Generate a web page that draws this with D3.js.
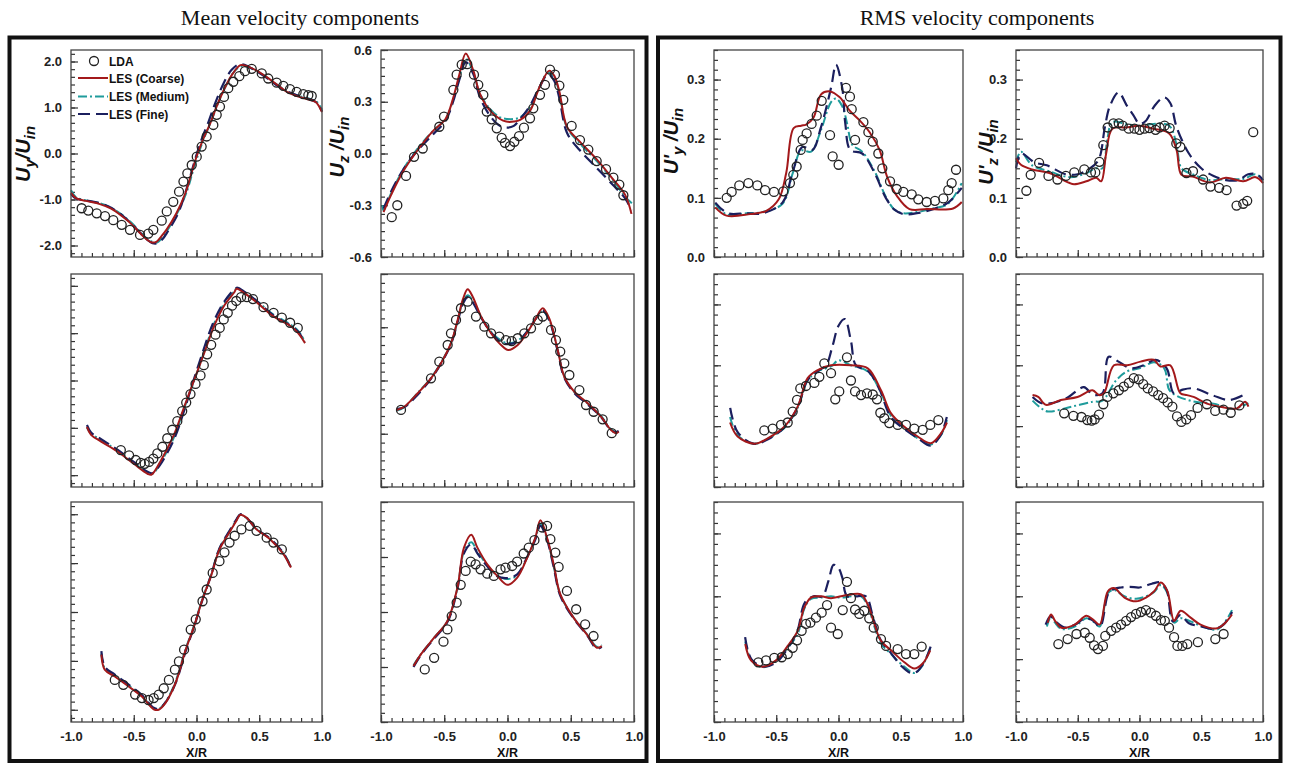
<!DOCTYPE html>
<html>
<head>
<meta charset="utf-8">
<title>Mean and RMS velocity components</title>
<script src="https://d3js.org/d3.v7.min.js"></script>
<style>
  body { margin: 0; background: #fff; }
  svg { display: block; font-family: "Liberation Sans", Arial, sans-serif; }
  .tick text { font-size: 13px; font-weight: bold; fill: #222; }
  .tick line { stroke: #333; stroke-width: 1.2; }
  .frame { fill: none; stroke: #111; stroke-width: 4; }
  .box { fill: none; stroke: #444; stroke-width: 1.3; }
  .title { font-family: "Liberation Serif", "Times New Roman", serif; font-size: 22px; fill: #111; }
  .lda { fill: none; stroke: #222; stroke-width: 1.3; }
  .ytitle { font-size: 20px; font-weight: bold; font-style: italic; fill: #111; }
  .xtitle { font-size: 12.5px; font-weight: bold; fill: #111; }
  .legend text { font-size: 12px; font-weight: bold; fill: #111; }
</style>
</head>
<body>
<svg width="1290" height="765"></svg>
<script>
// ---- tick labels ----
var xTicks = [-1, -0.5, 0, 0.5, 1];
var uyTicks = [-2, -1, 0, 1, 2];
var uzTicks = [-0.6, -0.3, 0, 0.3, 0.6];
var rmsTicks = [0, 0.1, 0.2, 0.3];
var seriesNames = ["LDA", "LES (Coarse)", "LES (Medium)", "LES (Fine)"];

// ---- row 1 : Uy/Uin ----
var uyCoarse1 = [[-1,-0.85],[-0.96,-0.97],[-0.88,-1.03],[-0.77,-1.1],[-0.68,-1.2],[-0.59,-1.37],[-0.52,-1.53],[-0.45,-1.73],[-0.4,-1.86],[-0.36,-1.93],[-0.32,-1.92],[-0.28,-1.8],[-0.24,-1.66],[-0.16,-1.3],[-0.09,-0.87],[-0.04,-0.43],[0,-0.07],[0.05,0.29],[0.11,0.66],[0.16,1.02],[0.23,1.45],[0.29,1.74],[0.35,1.92],[0.4,1.9],[0.48,1.8],[0.56,1.66],[0.64,1.5],[0.72,1.34],[0.82,1.23],[0.9,1.17],[0.95,1.12],[1,0.9]];
var uyMedium1 = [[-1,-0.8],[-0.96,-0.95],[-0.88,-1.02],[-0.77,-1.08],[-0.68,-1.18],[-0.59,-1.34],[-0.52,-1.5],[-0.45,-1.7],[-0.4,-1.84],[-0.35,-1.92],[-0.31,-1.93],[-0.27,-1.82],[-0.23,-1.66],[-0.15,-1.28],[-0.08,-0.85],[-0.03,-0.4],[0.01,-0.05],[0.06,0.33],[0.12,0.72],[0.17,1.08],[0.24,1.5],[0.3,1.78],[0.36,1.9],[0.41,1.88],[0.49,1.78],[0.57,1.64],[0.65,1.48],[0.73,1.34],[0.83,1.24],[0.91,1.18],[0.96,1.12],[1,0.95]];
var uyFine1 = [[-1,-0.88],[-0.96,-0.98],[-0.88,-1.02],[-0.77,-1.08],[-0.68,-1.18],[-0.59,-1.35],[-0.52,-1.52],[-0.45,-1.72],[-0.4,-1.86],[-0.35,-1.95],[-0.31,-1.95],[-0.27,-1.86],[-0.23,-1.7],[-0.15,-1.32],[-0.1,-0.95],[-0.05,-0.5],[-0.01,-0.12],[0.04,0.3],[0.1,0.72],[0.15,1.1],[0.22,1.55],[0.28,1.82],[0.34,1.94],[0.39,1.92],[0.47,1.8],[0.55,1.66],[0.63,1.5],[0.72,1.35],[0.82,1.25],[0.9,1.18],[0.95,1.12],[1,0.92]];
var uyLda1 = [[-0.915,-1.19],[-0.862,-1.24],[-0.795,-1.3],[-0.729,-1.36],[-0.663,-1.45],[-0.596,-1.55],[-0.53,-1.66],[-0.45,-1.77],[-0.384,-1.74],[-0.344,-1.66],[-0.277,-1.46],[-0.237,-1.26],[-0.185,-1.05],[-0.139,-0.83],[-0.104,-0.61],[-0.073,-0.43],[-0.038,-0.25],[0.002,-0.07],[0.041,0.15],[0.081,0.37],[0.134,0.62],[0.161,0.84],[0.187,1.02],[0.219,1.23],[0.253,1.42],[0.293,1.56],[0.341,1.68],[0.386,1.79],[0.44,1.84],[0.52,1.74],[0.572,1.63],[0.639,1.54],[0.692,1.47],[0.745,1.4],[0.798,1.34],[0.851,1.29],[0.891,1.27],[0.918,1.25]];

// ---- row 1 : Uz/Uin ----
var uzCoarse1 = [[-0.98,-0.34],[-0.92,-0.24],[-0.83,-0.11],[-0.72,0.01],[-0.59,0.13],[-0.49,0.2],[-0.43,0.32],[-0.38,0.46],[-0.33,0.58],[-0.27,0.48],[-0.22,0.35],[-0.14,0.25],[-0.06,0.2],[-0.01,0.185],[0.05,0.185],[0.1,0.195],[0.18,0.25],[0.25,0.38],[0.33,0.48],[0.37,0.45],[0.41,0.36],[0.47,0.155],[0.57,0.07],[0.7,-0.03],[0.83,-0.145],[0.93,-0.24],[0.98,-0.35]];
var uzMedium1 = [[-0.99,-0.3],[-0.98,-0.33],[-0.92,-0.23],[-0.83,-0.1],[-0.72,0.02],[-0.59,0.13],[-0.49,0.2],[-0.43,0.31],[-0.38,0.44],[-0.33,0.55],[-0.27,0.47],[-0.22,0.35],[-0.14,0.26],[-0.06,0.21],[0,0.2],[0.05,0.2],[0.1,0.21],[0.18,0.27],[0.25,0.38],[0.32,0.47],[0.37,0.44],[0.41,0.35],[0.47,0.15],[0.57,0.06],[0.7,-0.04],[0.83,-0.15],[0.93,-0.25],[1,-0.3]];
var uzFine1 = [[-0.98,-0.32],[-0.92,-0.22],[-0.83,-0.1],[-0.72,0.01],[-0.59,0.11],[-0.49,0.19],[-0.43,0.3],[-0.38,0.43],[-0.33,0.53],[-0.27,0.46],[-0.22,0.33],[-0.14,0.22],[-0.06,0.16],[0,0.15],[0.05,0.16],[0.1,0.2],[0.18,0.28],[0.25,0.38],[0.32,0.46],[0.37,0.42],[0.41,0.32],[0.47,0.12],[0.57,0.02],[0.7,-0.08],[0.83,-0.18],[0.93,-0.26],[0.98,-0.33]];
var uzLda1 = [[-0.915,-0.369],[-0.871,-0.3],[-0.802,-0.13],[-0.739,-0.019],[-0.67,0.029],[-0.539,0.155],[-0.502,0.214],[-0.428,0.369],[-0.402,0.457],[-0.362,0.515],[-0.318,0.518],[-0.265,0.457],[-0.231,0.398],[-0.191,0.34],[-0.164,0.243],[-0.125,0.198],[-0.085,0.146],[-0.046,0.091],[-0.02,0.062],[0.02,0.043],[0.054,0.068],[0.091,0.101],[0.13,0.15],[0.178,0.204],[0.204,0.262],[0.257,0.34],[0.296,0.398],[0.336,0.486],[0.375,0.457],[0.41,0.394],[0.441,0.311],[0.507,0.16],[0.573,0.078],[0.639,0.023],[0.705,-0.044],[0.779,-0.091],[0.837,-0.14],[0.884,-0.18],[0.916,-0.242]];

// ---- row 1 : U'y/Uin ----
var ryCoarse1 = [[-0.99,0.084],[-0.9,0.07],[-0.71,0.0725],[-0.58,0.078],[-0.48,0.0975],[-0.42,0.142],[-0.36,0.218],[-0.3,0.222],[-0.26,0.224],[-0.2,0.236],[-0.14,0.275],[-0.07,0.28],[0.01,0.27],[0.09,0.2475],[0.17,0.231],[0.25,0.211],[0.33,0.181],[0.39,0.136],[0.47,0.103],[0.57,0.081],[0.71,0.081],[0.92,0.082],[0.99,0.093]];
var ryMedium1 = [[-0.99,0.09],[-0.9,0.072],[-0.74,0.074],[-0.61,0.076],[-0.45,0.09],[-0.37,0.14],[-0.3,0.18],[-0.22,0.178],[-0.14,0.215],[-0.06,0.262],[-0.02,0.268],[0.03,0.255],[0.07,0.225],[0.11,0.19],[0.19,0.178],[0.29,0.145],[0.38,0.102],[0.45,0.08],[0.52,0.074],[0.63,0.076],[0.76,0.082],[0.88,0.09],[0.99,0.125]];
var ryFine1 = [[-0.99,0.092],[-0.89,0.074],[-0.74,0.074],[-0.61,0.074],[-0.45,0.092],[-0.37,0.142],[-0.29,0.186],[-0.21,0.181],[-0.14,0.22],[-0.06,0.286],[-0.02,0.325],[0.03,0.286],[0.055,0.225],[0.095,0.181],[0.19,0.175],[0.29,0.142],[0.38,0.1],[0.45,0.08],[0.52,0.0725],[0.63,0.074],[0.76,0.081],[0.88,0.092],[0.99,0.117]];
var ryLda1 = [[-0.898,0.1],[-0.858,0.11],[-0.797,0.121],[-0.724,0.125],[-0.652,0.121],[-0.59,0.113],[-0.518,0.11],[-0.443,0.111],[-0.39,0.125],[-0.363,0.139],[-0.336,0.153],[-0.304,0.181],[-0.288,0.198],[-0.256,0.209],[-0.216,0.225],[-0.175,0.239],[-0.135,0.264],[-0.068,0.206],[-0.047,0.17],[0.001,0.156],[0.06,0.286],[0.092,0.271],[0.106,0.25],[0.133,0.198],[0.2,0.228],[0.24,0.211],[0.275,0.195],[0.32,0.175],[0.352,0.15],[0.414,0.128],[0.467,0.115],[0.521,0.11],[0.588,0.106],[0.641,0.0975],[0.708,0.093],[0.775,0.095],[0.842,0.099],[0.882,0.113],[0.909,0.125],[0.944,0.1475]];

// ---- row 1 : U'z/Uin ----
var rzCoarse1 = [[-1,0.167],[-0.96,0.156],[-0.87,0.148],[-0.73,0.142],[-0.57,0.1255],[-0.53,0.123],[-0.43,0.128],[-0.35,0.134],[-0.31,0.128],[-0.27,0.175],[-0.22,0.217],[-0.11,0.219],[0,0.222],[0.11,0.217],[0.24,0.209],[0.3,0.181],[0.34,0.139],[0.43,0.136],[0.57,0.126],[0.7,0.134],[0.84,0.128],[0.94,0.135],[1,0.125]];
var rzMedium1 = [[-1,0.16],[-0.96,0.178],[-0.87,0.155],[-0.73,0.145],[-0.57,0.135],[-0.45,0.14],[-0.35,0.15],[-0.3,0.15],[-0.26,0.2],[-0.22,0.228],[-0.11,0.225],[0,0.222],[0.11,0.225],[0.24,0.222],[0.3,0.19],[0.34,0.15],[0.43,0.14],[0.57,0.13],[0.7,0.132],[0.84,0.132],[0.94,0.14],[1,0.13]];
var rzFine1 = [[-1,0.15],[-0.96,0.175],[-0.85,0.16],[-0.75,0.155],[-0.6,0.14],[-0.5,0.14],[-0.4,0.15],[-0.33,0.165],[-0.28,0.22],[-0.24,0.255],[-0.17,0.278],[-0.1,0.255],[-0.05,0.24],[0,0.225],[0.05,0.23],[0.12,0.255],[0.2,0.27],[0.25,0.26],[0.3,0.22],[0.4,0.175],[0.5,0.15],[0.6,0.137],[0.7,0.13],[0.8,0.13],[0.88,0.14],[0.95,0.14],[1,0.13]];
var rzLda1 = [[-0.916,0.112],[-0.881,0.139],[-0.813,0.159],[-0.737,0.137],[-0.664,0.131],[-0.596,0.137],[-0.528,0.143],[-0.447,0.148],[-0.393,0.143],[-0.358,0.143],[-0.325,0.161],[-0.293,0.189],[-0.258,0.219],[-0.211,0.226],[-0.168,0.226],[-0.136,0.222],[-0.087,0.217],[-0.041,0.217],[0,0.215],[0.041,0.217],[0.081,0.218],[0.13,0.215],[0.163,0.219],[0.203,0.222],[0.244,0.218],[0.298,0.192],[0.331,0.186],[0.38,0.142],[0.433,0.145],[0.515,0.131],[0.575,0.119],[0.645,0.117],[0.705,0.113],[0.786,0.087],[0.84,0.09],[0.872,0.095],[0.921,0.211]];

// ---- row 2 ----
var uyCoarse2 = [[-0.873,-0.98],[-0.84,-1.15],[-0.76,-1.29],[-0.63,-1.5],[-0.5,-1.76],[-0.39,-1.97],[-0.36,-1.99],[-0.29,-1.72],[-0.18,-1.15],[-0.1,-0.57],[-0.02,0],[0.06,0.57],[0.14,1.15],[0.22,1.58],[0.3,1.86],[0.32,1.94],[0.39,1.83],[0.48,1.65],[0.61,1.36],[0.75,1.15],[0.81,1],[0.865,0.79]];
var uyMedium2 = [[-0.873,-1],[-0.84,-1.12],[-0.76,-1.26],[-0.63,-1.48],[-0.5,-1.74],[-0.39,-1.94],[-0.35,-1.97],[-0.29,-1.75],[-0.18,-1.2],[-0.1,-0.6],[-0.02,-0.02],[0.06,0.6],[0.14,1.2],[0.22,1.62],[0.3,1.88],[0.32,1.95],[0.39,1.85],[0.48,1.68],[0.61,1.4],[0.75,1.18],[0.81,1.05],[0.865,0.82]];
var uyFine2 = [[-0.873,-0.94],[-0.84,-1.1],[-0.76,-1.24],[-0.63,-1.46],[-0.5,-1.72],[-0.39,-1.93],[-0.35,-1.96],[-0.29,-1.78],[-0.18,-1.25],[-0.1,-0.65],[-0.03,-0.05],[0.05,0.6],[0.13,1.2],[0.21,1.62],[0.29,1.9],[0.32,1.96],[0.39,1.86],[0.48,1.68],[0.61,1.38],[0.75,1.16],[0.81,1.03],[0.865,0.8]];
var uyLda2 = [[-0.603,-1.47],[-0.537,-1.58],[-0.484,-1.68],[-0.444,-1.74],[-0.413,-1.76],[-0.378,-1.72],[-0.344,-1.65],[-0.312,-1.54],[-0.272,-1.4],[-0.233,-1.22],[-0.193,-1.04],[-0.153,-0.86],[-0.114,-0.645],[-0.082,-0.466],[-0.048,-0.287],[-0.008,-0.072],[0.032,0.108],[0.058,0.323],[0.085,0.552],[0.117,0.753],[0.151,0.968],[0.185,1.11],[0.217,1.29],[0.249,1.43],[0.283,1.58],[0.317,1.68],[0.355,1.76],[0.402,1.76],[0.45,1.72],[0.534,1.55],[0.614,1.43],[0.68,1.33],[0.746,1.22],[0.807,1.11]];

var uzCoarse2 = [[-0.874,-0.166],[-0.816,-0.148],[-0.71,-0.072],[-0.605,0.012],[-0.526,0.097],[-0.447,0.21],[-0.394,0.341],[-0.354,0.454],[-0.315,0.514],[-0.275,0.472],[-0.209,0.36],[-0.13,0.266],[-0.051,0.2],[0.006,0.172],[0.081,0.2],[0.16,0.275],[0.225,0.35],[0.278,0.407],[0.33,0.35],[0.397,0.172],[0.449,0.021],[0.528,-0.063],[0.634,-0.128],[0.739,-0.204],[0.818,-0.279],[0.858,-0.297],[0.879,-0.288]];
var uzMedium2 = [[-0.874,-0.17],[-0.816,-0.15],[-0.71,-0.07],[-0.605,0.015],[-0.526,0.1],[-0.447,0.21],[-0.394,0.335],[-0.354,0.44],[-0.315,0.48],[-0.275,0.45],[-0.209,0.36],[-0.13,0.275],[-0.051,0.225],[0.006,0.21],[0.081,0.225],[0.16,0.28],[0.225,0.35],[0.278,0.39],[0.33,0.34],[0.397,0.17],[0.449,0.02],[0.528,-0.065],[0.634,-0.13],[0.739,-0.2],[0.818,-0.275],[0.858,-0.29],[0.879,-0.28]];
var uzFine2 = [[-0.874,-0.16],[-0.816,-0.15],[-0.71,-0.08],[-0.605,0.01],[-0.526,0.095],[-0.447,0.205],[-0.394,0.33],[-0.354,0.43],[-0.315,0.47],[-0.275,0.44],[-0.209,0.355],[-0.13,0.27],[-0.051,0.215],[0.006,0.205],[0.081,0.22],[0.16,0.28],[0.225,0.35],[0.278,0.395],[0.33,0.34],[0.397,0.165],[0.449,0.015],[0.528,-0.07],[0.634,-0.135],[0.739,-0.205],[0.818,-0.28],[0.858,-0.29],[0.879,-0.285]];
var uzLda2 = [[-0.842,-0.166],[-0.605,0.012],[-0.539,0.106],[-0.473,0.2],[-0.447,0.266],[-0.407,0.341],[-0.368,0.407],[-0.315,0.444],[-0.249,0.36],[-0.183,0.303],[-0.13,0.266],[-0.065,0.247],[-0.012,0.228],[0.033,0.222],[0.081,0.238],[0.133,0.266],[0.186,0.294],[0.239,0.341],[0.278,0.36],[0.344,0.285],[0.383,0.228],[0.417,0.163],[0.449,0.097],[0.489,0.031],[0.568,-0.054],[0.621,-0.138],[0.681,-0.176],[0.752,-0.219],[0.824,-0.297]];

var ryCoarse2 = [[-0.871,0.106],[-0.81,0.083],[-0.676,0.071],[-0.569,0.08],[-0.435,0.099],[-0.328,0.132],[-0.248,0.179],[-0.167,0.192],[-0.06,0.2],[0.1,0.2],[0.235,0.195],[0.341,0.159],[0.422,0.121],[0.529,0.099],[0.636,0.083],[0.743,0.072],[0.823,0.088],[0.871,0.106]];
var ryMedium2 = [[-0.871,0.115],[-0.81,0.085],[-0.676,0.071],[-0.569,0.079],[-0.435,0.097],[-0.328,0.13],[-0.248,0.175],[-0.167,0.19],[-0.06,0.198],[0,0.208],[0.1,0.2],[0.235,0.19],[0.341,0.155],[0.422,0.117],[0.529,0.097],[0.636,0.08],[0.743,0.07],[0.823,0.085],[0.871,0.11]];
var ryFine2 = [[-0.87,0.13],[-0.81,0.09],[-0.68,0.071],[-0.57,0.078],[-0.44,0.097],[-0.33,0.13],[-0.25,0.175],[-0.17,0.19],[-0.1,0.2],[-0.05,0.23],[0,0.265],[0.05,0.276],[0.1,0.24],[0.14,0.2],[0.24,0.19],[0.33,0.16],[0.42,0.115],[0.53,0.095],[0.64,0.08],[0.74,0.068],[0.82,0.085],[0.87,0.115]];
var ryLda2 = [[-0.596,0.093],[-0.529,0.096],[-0.462,0.102],[-0.408,0.106],[-0.368,0.124],[-0.333,0.143],[-0.307,0.162],[-0.261,0.166],[-0.194,0.171],[-0.154,0.181],[-0.114,0.203],[-0.06,0.187],[-0.026,0.144],[0.006,0.157],[0.068,0.213],[0.1,0.175],[0.133,0.157],[0.181,0.151],[0.229,0.154],[0.275,0.152],[0.309,0.144],[0.336,0.122],[0.368,0.113],[0.408,0.105],[0.476,0.102],[0.542,0.102],[0.609,0.096],[0.676,0.094],[0.737,0.102],[0.802,0.11]];

var rzCoarse2 = [[-0.866,0.151],[-0.82,0.148],[-0.758,0.135],[-0.637,0.143],[-0.502,0.148],[-0.381,0.159],[-0.328,0.151],[-0.288,0.154],[-0.207,0.2],[-0.099,0.2],[0.008,0.206],[0.115,0.209],[0.169,0.198],[0.25,0.2],[0.331,0.154],[0.385,0.151],[0.438,0.148],[0.546,0.137],[0.653,0.132],[0.788,0.129],[0.855,0.14],[0.882,0.132]];
var rzMedium2 = [[-0.866,0.142],[-0.8,0.13],[-0.74,0.124],[-0.55,0.132],[-0.38,0.14],[-0.3,0.142],[-0.19,0.175],[-0.1,0.19],[0,0.195],[0.12,0.205],[0.2,0.195],[0.24,0.16],[0.3,0.15],[0.45,0.14],[0.6,0.137],[0.75,0.128],[0.82,0.132],[0.882,0.138]];
var rzFine2 = [[-0.866,0.148],[-0.78,0.137],[-0.6,0.145],[-0.45,0.164],[-0.38,0.152],[-0.3,0.154],[-0.25,0.214],[-0.17,0.206],[-0.07,0.195],[0.035,0.2],[0.13,0.209],[0.22,0.195],[0.277,0.154],[0.35,0.16],[0.44,0.162],[0.6,0.15],[0.73,0.143],[0.87,0.154]];
var rzLda2 = [[-0.61,0.121],[-0.535,0.117],[-0.47,0.115],[-0.422,0.11],[-0.387,0.109],[-0.363,0.111],[-0.328,0.119],[-0.293,0.136],[-0.261,0.148],[-0.212,0.154],[-0.167,0.159],[-0.127,0.165],[-0.086,0.171],[-0.046,0.179],[-0.006,0.177],[0.03,0.169],[0.067,0.162],[0.11,0.157],[0.151,0.151],[0.191,0.146],[0.228,0.139],[0.266,0.132],[0.304,0.116],[0.339,0.107],[0.379,0.111],[0.417,0.118],[0.47,0.13],[0.546,0.136],[0.613,0.125],[0.68,0.127],[0.739,0.122],[0.809,0.134]];

// ---- row 3 ----
var uyCoarse3 = [[-0.758,-0.873],[-0.731,-1.18],[-0.651,-1.32],[-0.543,-1.52],[-0.435,-1.73],[-0.341,-1.99],[-0.301,-2],[-0.247,-1.86],[-0.167,-1.45],[-0.086,-0.77],[-0.019,-0.29],[0.048,0.26],[0.116,0.74],[0.183,1.28],[0.263,1.63],[0.317,1.86],[0.349,1.99],[0.398,1.93],[0.478,1.69],[0.586,1.49],[0.694,1.18],[0.753,0.91]];
var uyMedium3 = [[-0.758,-0.85],[-0.731,-1.15],[-0.651,-1.3],[-0.543,-1.5],[-0.435,-1.72],[-0.341,-1.97],[-0.301,-1.98],[-0.247,-1.84],[-0.167,-1.42],[-0.086,-0.75],[-0.019,-0.27],[0.048,0.28],[0.116,0.76],[0.183,1.3],[0.263,1.65],[0.317,1.88],[0.349,1.99],[0.398,1.92],[0.478,1.7],[0.586,1.5],[0.694,1.2],[0.753,0.93]];
var uyFine3 = [[-0.758,-0.8],[-0.731,-1.12],[-0.651,-1.28],[-0.543,-1.48],[-0.435,-1.7],[-0.341,-1.96],[-0.301,-1.98],[-0.247,-1.85],[-0.167,-1.46],[-0.086,-0.8],[-0.019,-0.3],[0.048,0.25],[0.116,0.75],[0.183,1.3],[0.263,1.66],[0.317,1.89],[0.349,2],[0.398,1.93],[0.478,1.7],[0.586,1.5],[0.694,1.2],[0.753,0.9]];
var uyLda3 = [[-0.651,-1.39],[-0.583,-1.49],[-0.489,-1.69],[-0.435,-1.76],[-0.382,-1.8],[-0.341,-1.76],[-0.301,-1.69],[-0.261,-1.56],[-0.22,-1.39],[-0.172,-1.18],[-0.14,-1.01],[-0.099,-0.77],[-0.046,-0.36],[-0.006,-0.15],[0.048,0.22],[0.081,0.46],[0.129,0.8],[0.183,1.04],[0.223,1.22],[0.263,1.42],[0.304,1.56],[0.358,1.69],[0.425,1.76],[0.478,1.66],[0.559,1.52],[0.613,1.42],[0.68,1.28]];

var uzCoarse3 = [[-0.743,-0.295],[-0.685,-0.231],[-0.58,-0.14],[-0.475,-0.049],[-0.396,0.133],[-0.344,0.351],[-0.286,0.421],[-0.238,0.351],[-0.16,0.26],[-0.081,0.197],[-0.002,0.148],[0.077,0.188],[0.156,0.297],[0.22,0.406],[0.26,0.501],[0.312,0.406],[0.365,0.26],[0.417,0.097],[0.522,-0.031],[0.627,-0.122],[0.706,-0.195],[0.745,-0.186]];
var uzMedium3 = [[-0.743,-0.29],[-0.685,-0.23],[-0.58,-0.14],[-0.475,-0.05],[-0.396,0.13],[-0.344,0.33],[-0.286,0.38],[-0.238,0.33],[-0.16,0.255],[-0.081,0.2],[-0.002,0.18],[0.077,0.2],[0.156,0.3],[0.22,0.4],[0.26,0.48],[0.312,0.4],[0.365,0.25],[0.417,0.095],[0.522,-0.03],[0.627,-0.12],[0.706,-0.19],[0.745,-0.18]];
var uzFine3 = [[-0.743,-0.3],[-0.685,-0.235],[-0.58,-0.145],[-0.475,-0.055],[-0.396,0.125],[-0.344,0.32],[-0.286,0.37],[-0.238,0.32],[-0.16,0.25],[-0.081,0.195],[-0.002,0.185],[0.077,0.205],[0.156,0.3],[0.22,0.395],[0.26,0.47],[0.312,0.395],[0.365,0.245],[0.417,0.09],[0.522,-0.035],[0.627,-0.125],[0.706,-0.2],[0.745,-0.19]];
var uzLda3 = [[-0.654,-0.313],[-0.58,-0.25],[-0.506,-0.162],[-0.475,-0.095],[-0.441,-0.022],[-0.402,0.051],[-0.37,0.148],[-0.331,0.224],[-0.291,0.275],[-0.252,0.26],[-0.213,0.233],[-0.16,0.209],[-0.108,0.197],[-0.055,0.233],[-0.016,0.242],[0.037,0.251],[0.076,0.275],[0.128,0.319],[0.168,0.351],[0.213,0.392],[0.273,0.461],[0.313,0.47],[0.339,0.397],[0.378,0.324],[0.404,0.246],[0.47,0.115],[0.543,0.015],[0.614,-0.067],[0.68,-0.131]];

var ryCoarse3 = [[-0.749,0.124],[-0.703,0.098],[-0.609,0.088],[-0.502,0.098],[-0.408,0.121],[-0.328,0.145],[-0.275,0.182],[-0.221,0.198],[-0.141,0.2],[-0.06,0.197],[0.02,0.2],[0.1,0.203],[0.181,0.203],[0.235,0.187],[0.288,0.156],[0.341,0.129],[0.422,0.114],[0.529,0.095],[0.609,0.085],[0.676,0.093],[0.737,0.114]];
var ryMedium3 = [[-0.749,0.128],[-0.703,0.1],[-0.609,0.087],[-0.502,0.097],[-0.408,0.118],[-0.328,0.14],[-0.275,0.18],[-0.221,0.196],[-0.141,0.198],[-0.06,0.2],[0.02,0.198],[0.1,0.2],[0.181,0.2],[0.235,0.185],[0.288,0.152],[0.341,0.125],[0.422,0.108],[0.529,0.088],[0.609,0.078],[0.676,0.09],[0.737,0.118]];
var ryFine3 = [[-0.75,0.135],[-0.7,0.1],[-0.6,0.088],[-0.5,0.095],[-0.4,0.12],[-0.33,0.145],[-0.27,0.19],[-0.2,0.2],[-0.13,0.2],[-0.08,0.225],[-0.04,0.25],[0,0.245],[0.03,0.23],[0.07,0.2],[0.15,0.2],[0.22,0.2],[0.28,0.165],[0.34,0.13],[0.42,0.11],[0.5,0.09],[0.58,0.078],[0.63,0.08],[0.7,0.1],[0.74,0.12]];
var ryLda3 = [[-0.644,0.095],[-0.582,0.098],[-0.516,0.102],[-0.456,0.103],[-0.408,0.108],[-0.368,0.118],[-0.333,0.13],[-0.296,0.145],[-0.261,0.156],[-0.226,0.158],[-0.181,0.166],[-0.135,0.174],[-0.092,0.186],[-0.06,0.15],[-0.006,0.14],[0.034,0.178],[0.068,0.223],[0.1,0.197],[0.133,0.179],[0.167,0.172],[0.207,0.177],[0.247,0.165],[0.283,0.15],[0.341,0.132],[0.382,0.121],[0.475,0.116],[0.542,0.108],[0.609,0.108],[0.668,0.12]];

var rzCoarse3 = [[-0.743,0.158],[-0.716,0.171],[-0.684,0.161],[-0.631,0.15],[-0.524,0.155],[-0.43,0.169],[-0.376,0.163],[-0.323,0.155],[-0.256,0.208],[-0.207,0.213],[-0.122,0.198],[-0.028,0.192],[0.052,0.198],[0.119,0.208],[0.173,0.222],[0.226,0.208],[0.28,0.161],[0.333,0.177],[0.414,0.166],[0.494,0.155],[0.628,0.149],[0.695,0.158],[0.749,0.171]];
var rzMedium3 = [[-0.75,0.152],[-0.716,0.168],[-0.684,0.158],[-0.631,0.148],[-0.524,0.152],[-0.43,0.165],[-0.376,0.16],[-0.323,0.152],[-0.256,0.205],[-0.207,0.21],[-0.122,0.2],[-0.028,0.196],[0.052,0.2],[0.119,0.207],[0.173,0.218],[0.226,0.205],[0.28,0.158],[0.333,0.165],[0.414,0.16],[0.494,0.153],[0.628,0.147],[0.695,0.16],[0.749,0.178]];
var rzFine3 = [[-0.76,0.155],[-0.72,0.168],[-0.68,0.16],[-0.6,0.15],[-0.52,0.155],[-0.44,0.165],[-0.38,0.162],[-0.32,0.152],[-0.25,0.205],[-0.2,0.212],[-0.15,0.214],[-0.08,0.215],[0,0.214],[0.05,0.217],[0.1,0.22],[0.17,0.222],[0.22,0.21],[0.27,0.16],[0.33,0.17],[0.4,0.157],[0.5,0.152],[0.6,0.148],[0.68,0.155],[0.75,0.175]];
var rzLda3 = [[-0.657,0.124],[-0.582,0.132],[-0.51,0.14],[-0.443,0.142],[-0.403,0.134],[-0.368,0.122],[-0.336,0.116],[-0.296,0.121],[-0.277,0.137],[-0.229,0.145],[-0.189,0.15],[-0.149,0.155],[-0.108,0.161],[-0.068,0.167],[-0.028,0.172],[0.012,0.175],[0.052,0.178],[0.092,0.174],[0.133,0.169],[0.173,0.162],[0.205,0.161],[0.239,0.15],[0.28,0.135],[0.307,0.121],[0.347,0.121],[0.387,0.124],[0.473,0.127],[0.614,0.132],[0.681,0.14]];

// ---- layout ----
var cols = [[71, 322], [381, 634], [714, 963], [1016, 1263]];
var rows = [[50, 257], [274, 487], [502, 722]];
var colCfg = [
  {domain: [-2.25, 2.25], ticks: uyTicks, minorStep: 1 / 6, title: [["U", 0], ["y", 1], ["/U", 0], ["in", 1]], tx: 30, ty: 154},
  {domain: [-0.6, 0.6], ticks: uzTicks, minorStep: 0.05, title: [["U", 0], ["z", 1], [" /U", 0], ["in", 1]], tx: 344, ty: 147},
  {domain: [0, 0.35], ticks: rmsTicks, minorStep: 0.1 / 6, title: [["U'", 0], ["y", 1], [" /U", 0], ["in", 1]], tx: 678, ty: 141},
  {domain: [0, 0.35], ticks: rmsTicks, minorStep: 0.1 / 6, title: [["U'", 0], ["z", 1], [" /U", 0], ["in", 1]], tx: 993, ty: 152}
];

var panels = [
  {r: 0, c: 0, coarse: uyCoarse1, medium: uyMedium1, fine: uyFine1, lda: uyLda1},
  {r: 0, c: 1, coarse: uzCoarse1, medium: uzMedium1, fine: uzFine1, lda: uzLda1},
  {r: 0, c: 2, coarse: ryCoarse1, medium: ryMedium1, fine: ryFine1, lda: ryLda1},
  {r: 0, c: 3, coarse: rzCoarse1, medium: rzMedium1, fine: rzFine1, lda: rzLda1},
  {r: 1, c: 0, coarse: uyCoarse2, medium: uyMedium2, fine: uyFine2, lda: uyLda2},
  {r: 1, c: 1, coarse: uzCoarse2, medium: uzMedium2, fine: uzFine2, lda: uzLda2},
  {r: 1, c: 2, coarse: ryCoarse2, medium: ryMedium2, fine: ryFine2, lda: ryLda2},
  {r: 1, c: 3, coarse: rzCoarse2, medium: rzMedium2, fine: rzFine2, lda: rzLda2},
  {r: 2, c: 0, coarse: uyCoarse3, medium: uyMedium3, fine: uyFine3, lda: uyLda3},
  {r: 2, c: 1, coarse: uzCoarse3, medium: uzMedium3, fine: uzFine3, lda: uzLda3},
  {r: 2, c: 2, coarse: ryCoarse3, medium: ryMedium3, fine: ryFine3, lda: ryLda3},
  {r: 2, c: 3, coarse: rzCoarse3, medium: rzMedium3, fine: rzFine3, lda: rzLda3}
];

var styles = {
  coarse: {color: "#a3191b", width: 2, dash: null},
  medium: {color: "#1f9c9c", width: 2, dash: "9,3,2,3"},
  fine:   {color: "#1b1f5e", width: 2.2, dash: "12,6"}
};

var svg = d3.select("svg");
var fmt = function(d) { return d.toFixed(1); };

// outer frames and titles
svg.append("rect").attr("class", "frame").attr("x", 9.5).attr("y", 37.5).attr("width", 637).attr("height", 723.5);
svg.append("rect").attr("class", "frame").attr("x", 658).attr("y", 37.5).attr("width", 622.5).attr("height", 723.5);
svg.append("text").attr("class", "title").attr("x", 300).attr("y", 25).attr("text-anchor", "middle").text("Mean velocity components");
svg.append("text").attr("class", "title").attr("x", 977).attr("y", 25).attr("text-anchor", "middle").text("RMS velocity components");

panels.forEach(function(p) {
  var cfg = colCfg[p.c];
  var x0 = cols[p.c][0], x1 = cols[p.c][1], y0 = rows[p.r][0], y1 = rows[p.r][1];
  var x = d3.scaleLinear().domain([-1, 1]).range([x0, x1]);
  var y = d3.scaleLinear().domain(cfg.domain).range([y1, y0]);
  var g = svg.append("g");

  var xMinor = d3.range(-12, 13).map(function(i) { return i / 12; });
  var n0 = Math.ceil(cfg.domain[0] / cfg.minorStep - 1e-6), n1 = Math.floor(cfg.domain[1] / cfg.minorStep + 1e-6);
  var yMinor = d3.range(n0, n1 + 1).map(function(i) { return i * cfg.minorStep; });

  // bottom axis, ticks pointing inward
  g.append("g").attr("transform", "translate(0," + y1 + ")")
    .call(d3.axisBottom(x).tickValues(xMinor).tickSize(-4).tickFormat(""))
    .call(function(a) { a.select(".domain").remove(); });
  g.append("g").attr("transform", "translate(0," + y1 + ")")
    .call(d3.axisBottom(x).tickValues(xTicks).tickSize(-7).tickPadding(10).tickFormat(p.r === 2 ? fmt : ""))
    .call(function(a) { a.select(".domain").remove(); });

  // left axis
  g.append("g").attr("transform", "translate(" + x0 + ",0)")
    .call(d3.axisLeft(y).tickValues(yMinor).tickSize(-4).tickFormat(""))
    .call(function(a) { a.select(".domain").remove(); });
  g.append("g").attr("transform", "translate(" + x0 + ",0)")
    .call(d3.axisLeft(y).tickValues(cfg.ticks).tickSize(-7).tickPadding(9).tickFormat(p.r === 0 ? fmt : ""))
    .call(function(a) { a.select(".domain").remove(); });

  var line = d3.line()
    .x(function(d) { return x(d[0]); })
    .y(function(d) { return y(d[1]); })
    .curve(d3.curveCatmullRom.alpha(0.5));

  ["medium", "fine", "coarse"].forEach(function(k) {
    var s = styles[k];
    g.append("path").datum(p[k])
      .attr("d", line)
      .attr("fill", "none")
      .attr("stroke", s.color)
      .attr("stroke-width", s.width)
      .attr("stroke-dasharray", s.dash);
  });

  g.selectAll("circle").data(p.lda).enter().append("circle")
    .attr("class", "lda")
    .attr("cx", function(d) { return x(d[0]); })
    .attr("cy", function(d) { return y(d[1]); })
    .attr("r", 4.5);

  g.append("rect").attr("class", "box")
    .attr("x", x0).attr("y", y0).attr("width", x1 - x0).attr("height", y1 - y0);

  if (p.r === 0) {
    var t = svg.append("text").attr("class", "ytitle")
      .attr("text-anchor", "middle")
      .attr("transform", "translate(" + cfg.tx + "," + cfg.ty + ") rotate(-90)");
    var prevSub = 0;
    cfg.title.forEach(function(part) {
      var sub = part[1];
      t.append("tspan")
        .attr("dy", sub === prevSub ? 0 : (sub ? 5 : -5))
        .attr("font-size", sub ? 15 : 20)
        .text(part[0]);
      prevSub = sub;
    });
  }
  if (p.r === 2) {
    svg.append("text").attr("class", "xtitle")
      .attr("x", (x0 + x1) / 2).attr("y", 757).attr("text-anchor", "middle").text("X/R");
  }
});

// legend inside first panel
var leg = svg.append("g").attr("class", "legend");
var legY = [61, 78, 96.5, 114];
leg.append("circle").attr("class", "lda").attr("cx", 94).attr("cy", legY[0]).attr("r", 4.5);
["coarse", "medium", "fine"].forEach(function(k, i) {
  var s = styles[k];
  leg.append("line").attr("x1", 78).attr("x2", 108).attr("y1", legY[i + 1]).attr("y2", legY[i + 1])
    .attr("stroke", s.color).attr("stroke-width", s.width).attr("stroke-dasharray", s.dash);
});
seriesNames.forEach(function(name, i) {
  leg.append("text").attr("x", 109).attr("y", legY[i] + 4.5).text(name);
});
</script>
</body>
</html>
